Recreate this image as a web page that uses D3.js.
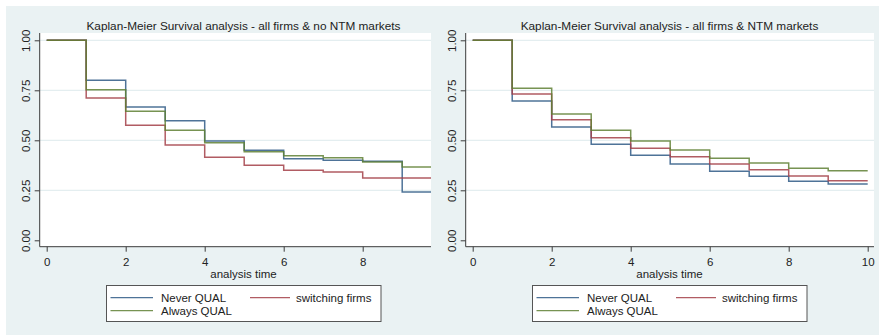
<!DOCTYPE html>
<html>
<head>
<meta charset="utf-8">
<script src="https://cdn.jsdelivr.net/npm/d3@7"></script>
<style>
  html, body { margin: 0; padding: 0; background: #ffffff; }
  svg { display: block; font-family: "Liberation Sans", Arial, sans-serif; }
</style>
</head>
<body>
<svg id="chart" width="879" height="335"></svg>
<script>
// Kaplan-Meier survival estimates, one value per yearly interval [t, t+1)
const times = [0, 1, 2, 3, 4, 5, 6, 7, 8, 9];
const maxTime = 10;

const noNtmNever  = [1, 0.800, 0.667, 0.598, 0.497, 0.450, 0.408, 0.400, 0.395, 0.242];
const noNtmSwitch = [1, 0.712, 0.575, 0.477, 0.415, 0.375, 0.350, 0.342, 0.312, 0.312];
const noNtmAlways = [1, 0.753, 0.645, 0.550, 0.488, 0.443, 0.423, 0.413, 0.392, 0.367];

const ntmNever  = [1, 0.697, 0.567, 0.480, 0.425, 0.382, 0.345, 0.320, 0.295, 0.282];
const ntmSwitch = [1, 0.732, 0.603, 0.513, 0.460, 0.418, 0.382, 0.353, 0.322, 0.298];
const ntmAlways = [1, 0.760, 0.632, 0.550, 0.497, 0.452, 0.410, 0.387, 0.360, 0.348];

const yTicks = [0, 0.25, 0.5, 0.75, 1];
const xTicks = [0, 2, 4, 6, 8, 10];

const seriesNames = ["Never QUAL", "switching firms", "Always QUAL"];
const seriesColors = ["#2f5a86", "#a33f48", "#5f8034"];

const panels = [
  { x0: 6,   clipLeft: 0,   clipRight: 431, title: "Kaplan-Meier Survival analysis - all firms & no NTM markets",
    series: [noNtmNever, noNtmSwitch, noNtmAlways] },
  { x0: 432, clipLeft: 431, clipRight: 879, title: "Kaplan-Meier Survival analysis - all firms & NTM markets",
    series: [ntmNever, ntmSwitch, ntmAlways] }
];

const svg = d3.select("#chart");
const defs = svg.append("defs");

const axisColor = "#3c3c3c";
const bgColor = "#eaf2f3";

panels.forEach((p, i) => {
  const clipId = "panel-clip-" + i;
  defs.append("clipPath").attr("id", clipId)
    .append("rect").attr("x", p.clipLeft).attr("y", 0)
    .attr("width", p.clipRight - p.clipLeft).attr("height", 335);

  const g = svg.append("g").attr("clip-path", `url(#${clipId})`);

  // panel background
  g.append("rect").attr("x", Math.max(p.clipLeft, 6)).attr("y", 6)
    .attr("width", 450).attr("height", 329).attr("fill", bgColor);

  const axisX = p.x0 + 33.7;
  const plotTop = 33;
  const plotRight = p.x0 + 442;
  const axisY = 246.7;

  const x = d3.scaleLinear().domain([0, maxTime]).range([axisX + 7, axisX + 7 + 395]);
  const y = d3.scaleLinear().domain([0, 1]).range([240.3, 40.3]);

  // white plot region
  g.append("rect").attr("x", axisX).attr("y", plotTop)
    .attr("width", plotRight - axisX).attr("height", axisY - plotTop).attr("fill", "#ffffff");

  // horizontal grid lines
  g.append("g").selectAll("line").data(yTicks.filter(d => d > 0)).join("line")
    .attr("x1", axisX).attr("x2", plotRight)
    .attr("y1", d => y(d)).attr("y2", d => y(d))
    .attr("stroke", "#e4eef0").attr("stroke-width", 1.3);

  // survival step curves
  const line = d3.line()
    .x(d => x(d[0])).y(d => y(d[1]))
    .curve(d3.curveStepAfter);

  p.series.forEach((vals, k) => {
    const pts = times.map((t, j) => [t, vals[j]]);
    pts.push([maxTime, vals[vals.length - 1]]);
    g.append("path").datum(pts)
      .attr("d", line)
      .attr("fill", "none")
      .attr("stroke", seriesColors[k])
      .attr("stroke-width", 1.5)
      .attr("stroke-opacity", 0.85);
  });

  // y axis
  const yAxis = d3.axisLeft(y).tickValues(yTicks).tickSize(5).tickPadding(0)
    .tickFormat(d3.format(".2f"));
  const ya = g.append("g").attr("transform", `translate(${axisX},0)`).call(yAxis);
  ya.select(".domain").attr("d", `M0,${plotTop}V${axisY}`).attr("stroke", axisColor);
  ya.selectAll(".tick line").attr("stroke", axisColor);
  ya.selectAll(".tick text")
    .attr("x", null).attr("dy", null)
    .attr("transform", "translate(-10,0) rotate(-90)")
    .attr("text-anchor", "middle")
    .attr("font-size", 11.5).attr("fill", "#222")
    .attr("font-family", "Liberation Sans, Arial, sans-serif");

  // x axis
  const xAxis = d3.axisBottom(x).tickValues(xTicks).tickSize(5).tickPadding(6)
    .tickFormat(d3.format("d"));
  const xa = g.append("g").attr("transform", `translate(0,${axisY})`).call(xAxis);
  xa.select(".domain").attr("d", `M${axisX},0H${plotRight}`).attr("stroke", axisColor);
  xa.selectAll(".tick line").attr("stroke", axisColor);
  xa.selectAll(".tick text")
    .attr("font-size", 11.5).attr("fill", "#222")
    .attr("font-family", "Liberation Sans, Arial, sans-serif");

  const cx = p.x0 + 237.5;

  // axis title
  g.append("text").attr("x", cx).attr("y", 277.5)
    .attr("text-anchor", "middle").attr("font-size", 11.5).attr("fill", "#222")
    .text("analysis time");

  // panel title
  g.append("text").attr("x", cx).attr("y", 30)
    .attr("text-anchor", "middle").attr("font-size", 11.8).attr("fill", "#222")
    .text(p.title);

  // legend
  const lg = g.append("g");
  lg.append("rect").attr("x", p.x0 + 100.5).attr("y", 285.5)
    .attr("width", 274.5).attr("height", 36)
    .attr("fill", "#ffffff").attr("stroke", "#555").attr("stroke-width", 1);
  const entries = [
    { lx1: 104.5, lx2: 147, tx: 155, ly: 297.7 },
    { lx1: 244,   lx2: 284, tx: 290, ly: 297.7 },
    { lx1: 104.5, lx2: 147, tx: 155, ly: 310.7 }
  ];
  entries.forEach((e, k) => {
    lg.append("line")
      .attr("x1", p.x0 + e.lx1).attr("x2", p.x0 + e.lx2)
      .attr("y1", e.ly).attr("y2", e.ly)
      .attr("stroke", seriesColors[k]).attr("stroke-width", 1.3).attr("stroke-opacity", 0.85);
    lg.append("text").attr("x", p.x0 + e.tx).attr("y", e.ly + 4)
      .attr("font-size", 11.5).attr("fill", "#222")
      .text(seriesNames[k]);
  });
});
</script>
</body>
</html>
